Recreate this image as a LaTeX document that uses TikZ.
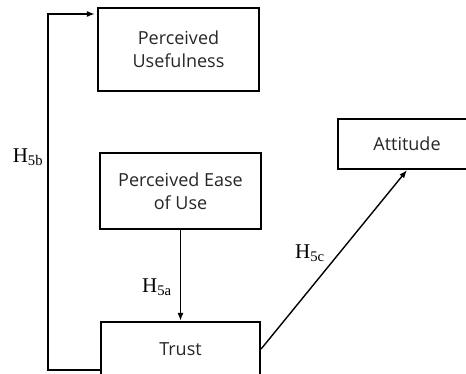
\documentclass[tikz,border=0pt]{standalone}
\usepackage{fontspec}
\setmainfont{Liberation Serif}
\newfontfamily\boxfont{Open Sans}
\usepackage{tikz}
\usetikzlibrary{arrows.meta,positioning}

\begin{document}
\begin{tikzpicture}[x=1pt, y=-1pt,
  construct/.style={draw, line width=2.2pt, align=center, inner sep=0pt,
    font=\boxfont\fontsize{18}{23}\selectfont, text=black!85},
  link/.style={line width=1.4pt, -{Latex[length=8pt, width=6pt]}},
  hyp/.style={font=\fontsize{21}{24}\selectfont}]
\useasboundingbox (0,0) rectangle (466,374);
\node[construct, minimum width=161pt, minimum height=83pt] (PU) at (178.5,49.5) {Perceived\\Usefulness};
\node[construct, minimum width=161pt, minimum height=76pt] (PEOU) at (180.5,191) {Perceived Ease\\of Use};
\node[construct, minimum width=159pt, minimum height=54pt] (T) at (180.5,349) {Trust};
\node[construct, minimum width=138pt, minimum height=50pt] (A) at (407,144) {Attitude};
\coordinate (low) at (48,370);
\coordinate (high) at (48,14);
% hypotheses
\draw[link] (PEOU) -- (T);
\draw[link] (T.east) -- (A.south);
\draw[link, shorten >=2pt] (T.west |- low) -- (low) -- (high) -- (PU.west |- high);
\node[hyp] (H5a) at (157,287) {H\textsubscript{5a}};
\node[hyp] (H5b) at (28,157) {H\textsubscript{5b}};
\node[hyp] (H5c) at (310,253) {H\textsubscript{5c}};
\end{tikzpicture}
\end{document}
